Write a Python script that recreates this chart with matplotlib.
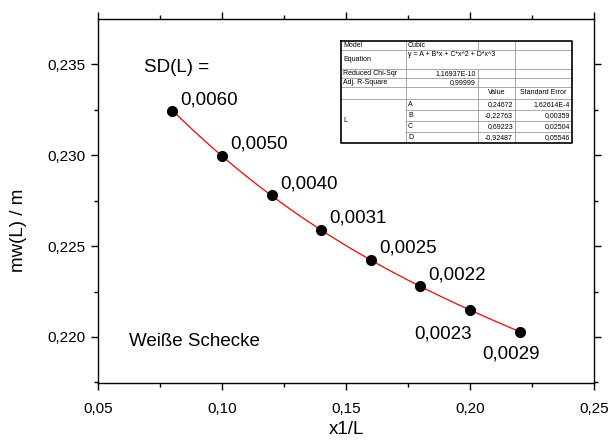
import numpy as np
import matplotlib
matplotlib.use("Agg")
import matplotlib.pyplot as plt
from matplotlib.ticker import FuncFormatter, MultipleLocator, AutoMinorLocator

plt.rcParams['font.family'] = ['Liberation Sans', 'DejaVu Sans']

# Messwerte
x1_L = [0.08, 0.10, 0.12, 0.14, 0.16, 0.18, 0.20, 0.22]
mw = [0.23245, 0.22995, 0.22780, 0.22586, 0.22424, 0.22278, 0.22149, 0.22030]
sd_labels = ["0,0060", "0,0050", "0,0040", "0,0031", "0,0025", "0,0022", "0,0023", "0,0029"]

# Fit-Parameter (Cubic) aus der Tabelle
fit_names = ["A", "B", "C", "D"]
fit_values = [0.24672, -0.22763, 0.69223, -0.92487]
fit_values_txt = ["0,24672", "-0,22763", "0,69223", "-0,92487"]
fit_errors_txt = ["1,62614E-4", "0,00359", "0,02504", "0,05546"]
chi_sqr_txt = "1,16937E-10"
adj_r2_txt = "0,99999"

fig = plt.figure(figsize=(6.11, 4.41), dpi=100)
ax = fig.add_axes([98 / 611, 1 - 383 / 441, 496 / 611, 364 / 441])

xf = np.linspace(min(x1_L), max(x1_L), 200)
ax.plot(xf, np.polyval(fit_values[::-1], xf), color='red', lw=0.9, zorder=2)
ax.plot(x1_L, mw, 'o', color='black', ms=7, zorder=3)

# Beschriftung der Punkte
offsets = [(6, 8), (6, 8.5), (6, 8), (6, 9), (6, 8.5), (6, 8), (1, -17), (-6.5, -16)]
aligns = ['left'] * 6 + ['right', 'center']
for x, y, t, off, ha in zip(x1_L, mw, sd_labels, offsets, aligns):
    ax.annotate(t, (x, y), xytext=off, textcoords='offset points',
                ha=ha, va='center', fontsize=13.5)

ax.text(0.0685, 0.2348, "SD(L) =", fontsize=13.5, va='center')
ax.text(0.0625, 0.21975, "Weiße Schecke", fontsize=13.5, va='center')

ax.set_xlim(0.05, 0.25)
ax.set_ylim(0.21747, 0.23749)
ax.xaxis.set_major_locator(MultipleLocator(0.05))
ax.xaxis.set_minor_locator(AutoMinorLocator(2))
ax.yaxis.set_major_locator(MultipleLocator(0.005))
ax.yaxis.set_minor_locator(AutoMinorLocator(2))
ax.xaxis.set_major_formatter(FuncFormatter(lambda v, p: f"{v:.2f}".replace('.', ',')))
ax.yaxis.set_major_formatter(FuncFormatter(lambda v, p: f"{v:.3f}".replace('.', ',')))
ax.tick_params(which='both', direction='out', top=True, right=True, width=1)
ax.tick_params(which='major', length=5)
ax.tick_params(which='minor', length=3)
ax.tick_params(axis='x', labelsize=11, pad=9)
ax.tick_params(axis='y', labelsize=11, pad=4)
for s in ax.spines.values():
    s.set_linewidth(1)

ax.set_xlabel("x1/L", fontsize=13.5)
ax.set_ylabel("mw(L) / m", fontsize=13.5)
ax.xaxis.set_label_coords(0.5, -0.105)
ax.yaxis.set_label_coords(-0.143, 0.42)

# Tabelle mit Fit-Ergebnissen (Einheiten: Pixel)
tx0, tx1, ty0, ty1 = 341, 572, 41, 143
tab = fig.add_axes([tx0 / 611, 1 - ty1 / 441, (tx1 - tx0) / 611, (ty1 - ty0) / 441])
tab.set_xlim(0, tx1 - tx0)
tab.set_ylim(ty1 - ty0, 0)
tab.axis('off')
cols = [0, 65, 137, 174, 231]
rows = [0, 9, 28, 37, 46, 58, 69, 80, 91, 102]
grey = '#9a9a9a'
fs = 5

# horizontale Linien
for i, r in enumerate(rows[1:-1], start=1):
    x_start = cols[1] if i >= 6 else cols[0]
    tab.plot([x_start, cols[-1]], [r, r], color=grey, lw=0.6)
# vertikale Linien
bottom = rows[-1]
tab.plot([cols[1], cols[1]], [0, bottom], color=grey, lw=0.6)
tab.plot([cols[3], cols[3]], [0, bottom], color=grey, lw=0.6)
tab.plot([cols[2], cols[2]], [rows[0], rows[1]], color=grey, lw=0.6)
tab.plot([cols[2], cols[2]], [rows[2], bottom], color=grey, lw=0.6)
tab.plot([0, cols[-1], cols[-1], 0, 0], [0, 0, bottom, bottom, 0], color='black', lw=1.2,
         clip_on=False)

def mid(i):
    return (rows[i] + rows[i + 1]) / 2

tab.text(2, mid(0), "Model", fontsize=fs, va='center')
tab.text(cols[1] + 2, mid(0), "Cubic", fontsize=fs, va='center')
tab.text(2, mid(1), "Equation", fontsize=fs, va='center')
tab.text(cols[1] + 2, rows[1] + 1.5, "y = A + B*x + C*x^2 + D*x^3", fontsize=fs, va='top')
tab.text(2, mid(2), "Reduced Chi-Sqr", fontsize=fs, va='center')
tab.text(cols[2] - 2, mid(2), chi_sqr_txt, fontsize=fs, va='center', ha='right')
tab.text(2, mid(3), "Adj. R-Square", fontsize=fs, va='center')
tab.text(cols[2] - 2, mid(3), adj_r2_txt, fontsize=fs, va='center', ha='right')
tab.text((cols[2] + cols[3]) / 2, mid(4), "Value", fontsize=fs, va='center', ha='center')
tab.text((cols[3] + cols[4]) / 2, mid(4), "Standard Error", fontsize=fs, va='center', ha='center')
tab.text(2, (rows[5] + rows[9]) / 2, "L", fontsize=fs, va='center')
for k in range(4):
    tab.text(cols[1] + 2, mid(5 + k), fit_names[k], fontsize=fs, va='center')
    tab.text(cols[3] - 2, mid(5 + k), fit_values_txt[k], fontsize=fs, va='center', ha='right')
    tab.text(cols[4] - 2, mid(5 + k), fit_errors_txt[k], fontsize=fs, va='center', ha='right')

fig.savefig("out.png", dpi=100)
